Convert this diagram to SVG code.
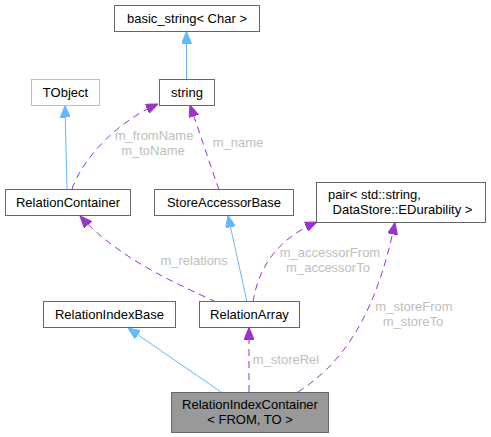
<svg xmlns="http://www.w3.org/2000/svg" width="491" height="437" viewBox="0 0 491 437">
<style>
.box{fill:#ffffff;stroke:#666666;stroke-width:1}
.boxl{fill:#ffffff;stroke:#bfbfbf;stroke-width:1}
.main{fill:#999999;stroke:#666666;stroke-width:1}
.t{font-family:"Liberation Sans",Arial,sans-serif;font-size:13px;fill:#000000}
.c{text-anchor:middle}
.lbl{font-family:"Liberation Sans",Arial,sans-serif;font-size:13px;fill:#bebebe;text-anchor:middle}
.inh{fill:none;stroke:#63b8ff;stroke-width:1;marker-end:url(#ab)}
.use{fill:none;stroke:#9a32cd;stroke-width:1;stroke-dasharray:7,5;marker-end:url(#ap)}
</style>
<defs>
<marker id="ab" markerUnits="userSpaceOnUse" markerWidth="12" markerHeight="10" viewBox="0 0 12 10" refX="12" refY="5" orient="auto"><path d="M0,0 L12,5 L0,10 z" fill="#63b8ff" stroke="#63b8ff"/></marker>
<marker id="ap" markerUnits="userSpaceOnUse" markerWidth="12" markerHeight="10" viewBox="0 0 12 10" refX="12" refY="5" orient="auto"><path d="M0,0 L12,5 L0,10 z" fill="#9a32cd" stroke="#9a32cd"/></marker>
</defs>
<g id="connectors">
<path class="inh" d="M186.5,79 L186.5,31.5"/>
<path class="inh" d="M67,189.5 L65,105.5"/>
<path class="inh" d="M247,302 L228,215.5"/>
<path class="inh" d="M221,392 L128,328"/>
<path class="use" d="M72,189 C80,165 110,125 158,104"/>
<text class="lbl" x="154" y="140">m_fromName</text>
<text class="lbl" x="153" y="155">m_toName</text>
<path class="use" d="M219,190 L190,105"/>
<text class="lbl" x="238" y="147">m_name</text>
<path class="use" d="M216,302 C180,285 120,260 80,216"/>
<text class="lbl" x="194" y="265">m_relations</text>
<path class="use" d="M253,302 C258,270 275,240 317,222"/>
<text class="lbl" x="330" y="257">m_accessorFrom</text>
<text class="lbl" x="328" y="272">m_accessorTo</text>
<path class="use" d="M298,392 C340,365 375,320 395,222.5"/>
<text class="lbl" x="414" y="311">m_storeFrom</text>
<text class="lbl" x="413" y="326">m_storeTo</text>
<path class="use" d="M249,392 L249,327.5"/>
<text class="lbl" x="286" y="364">m_storeRel</text>
</g>
<g id="basic_string">
<rect class="box" x="114.5" y="5.5" width="145" height="26"/>
<text class="t c" x="187" y="23">basic_string&lt; Char &gt;</text>
</g>
<g id="string">
<rect class="box" x="159.5" y="79.5" width="55" height="26"/>
<text class="t c" x="187" y="97">string</text>
</g>
<g id="TObject">
<rect class="boxl" x="31.5" y="79.5" width="68" height="26"/>
<text class="t c" x="65.5" y="97">TObject</text>
</g>
<g id="RelationContainer">
<rect class="box" x="5.5" y="189.5" width="125" height="26"/>
<text class="t c" x="68" y="207">RelationContainer</text>
</g>
<g id="StoreAccessorBase">
<rect class="box" x="154.5" y="189.5" width="139" height="26"/>
<text class="t c" x="224" y="207">StoreAccessorBase</text>
</g>
<g id="pair">
<rect class="box" x="316.5" y="182.5" width="169" height="40"/>
<text class="t" x="328" y="199">pair&lt; std::string,</text>
<text class="t" x="329" y="214" xml:space="preserve"> DataStore::EDurability &gt;</text>
</g>
<g id="RelationIndexBase">
<rect class="box" x="43.5" y="301.5" width="132" height="26"/>
<text class="t c" x="109.5" y="319">RelationIndexBase</text>
</g>
<g id="RelationArray">
<rect class="box" x="199.5" y="301.5" width="100" height="26"/>
<text class="t c" x="249.5" y="319">RelationArray</text>
</g>
<g id="RelationIndexContainer">
<rect class="main" x="171.5" y="392.5" width="157" height="40"/>
<text class="t c" x="250" y="409">RelationIndexContainer</text>
<text class="t c" x="250" y="424">&lt; FROM, TO &gt;</text>
</g>
</svg>
